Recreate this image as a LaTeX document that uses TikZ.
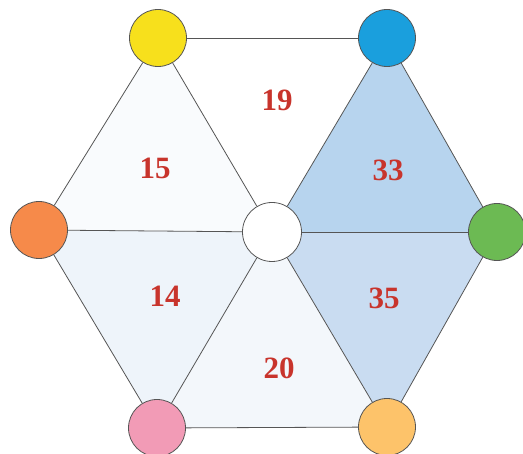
\documentclass[tikz,border=0pt]{standalone}
\usepackage{fontspec}
\setmainfont{Liberation Serif}
\definecolor{cyel}{HTML}{F7E01C}
\definecolor{cblu}{HTML}{1A9FDD}
\definecolor{cora}{HTML}{F68A4A}
\definecolor{cgre}{HTML}{6CBA53}
\definecolor{cpin}{HTML}{F29BB6}
\definecolor{clor}{HTML}{FDC36A}
\definecolor{numred}{HTML}{C8342C}
\definecolor{edge}{HTML}{555555}
\definecolor{fA}{HTML}{B7D4EE}
\definecolor{fB}{HTML}{C9DCF1}
\definecolor{fC}{HTML}{EEF4FA}
\definecolor{fD}{HTML}{F3F7FB}
\definecolor{fE}{HTML}{F9FBFD}
\tikzset{
  dot/.style={circle, draw=edge, line width=0.8pt, minimum size=57pt, inner sep=0pt},
  num/.style={text=numred, font=\fontsize{31}{31}\selectfont\bfseries},
  link/.style={draw=edge, line width=0.8pt}
}
\begin{document}
\begin{tikzpicture}[x=1pt,y=-1pt]
\useasboundingbox (0,0) rectangle (523,454);
\coordinate (Y) at (158,38);
\coordinate (B) at (387,38);
\coordinate (G) at (497,232);
\coordinate (C) at (272,232);
\coordinate (O) at (39,230);
\coordinate (P) at (157,428);
\coordinate (L) at (387,427);
% fills
\fill[fA] (B) -- (G) -- (C) -- cycle;
\fill[fB] (G) -- (L) -- (C) -- cycle;
\fill[fD] (L) -- (P) -- (C) -- cycle;
\fill[fC] (P) -- (O) -- (C) -- cycle;
\fill[fE] (O) -- (Y) -- (C) -- cycle;
% nodes
\node[dot, fill=cyel] (y) at (Y) {};
\node[dot, fill=cblu] (b) at (B) {};
\node[dot, fill=cgre] (g) at (G) {};
\node[dot, fill=white, minimum size=59pt] (c) at (C) {};
\node[dot, fill=cora] (o) at (O) {};
\node[dot, fill=cpin] (p) at (P) {};
\node[dot, fill=clor] (l) at (L) {};
% edges
\path[link] (y) -- (b);
\path[link] (b) -- (g);
\path[link] (g) -- (l);
\path[link] (l) -- (p);
\path[link] (p) -- (o);
\path[link] (o) -- (y);
\path[link] (c) -- (y);
\path[link] (c) -- (b);
\path[link] (c) -- (g);
\path[link] (c) -- (l);
\path[link] (c) -- (p);
\path[link] (c) -- (o);
% numbers
\node[num] (n19) at (277,100) {19};
\node[num] (n15) at (155,168) {15};
\node[num] (n33) at (388,170) {33};
\node[num] (n14) at (165,296) {14};
\node[num] (n35) at (384,298) {35};
\node[num] (n20) at (279,368) {20};
\end{tikzpicture}
\end{document}
